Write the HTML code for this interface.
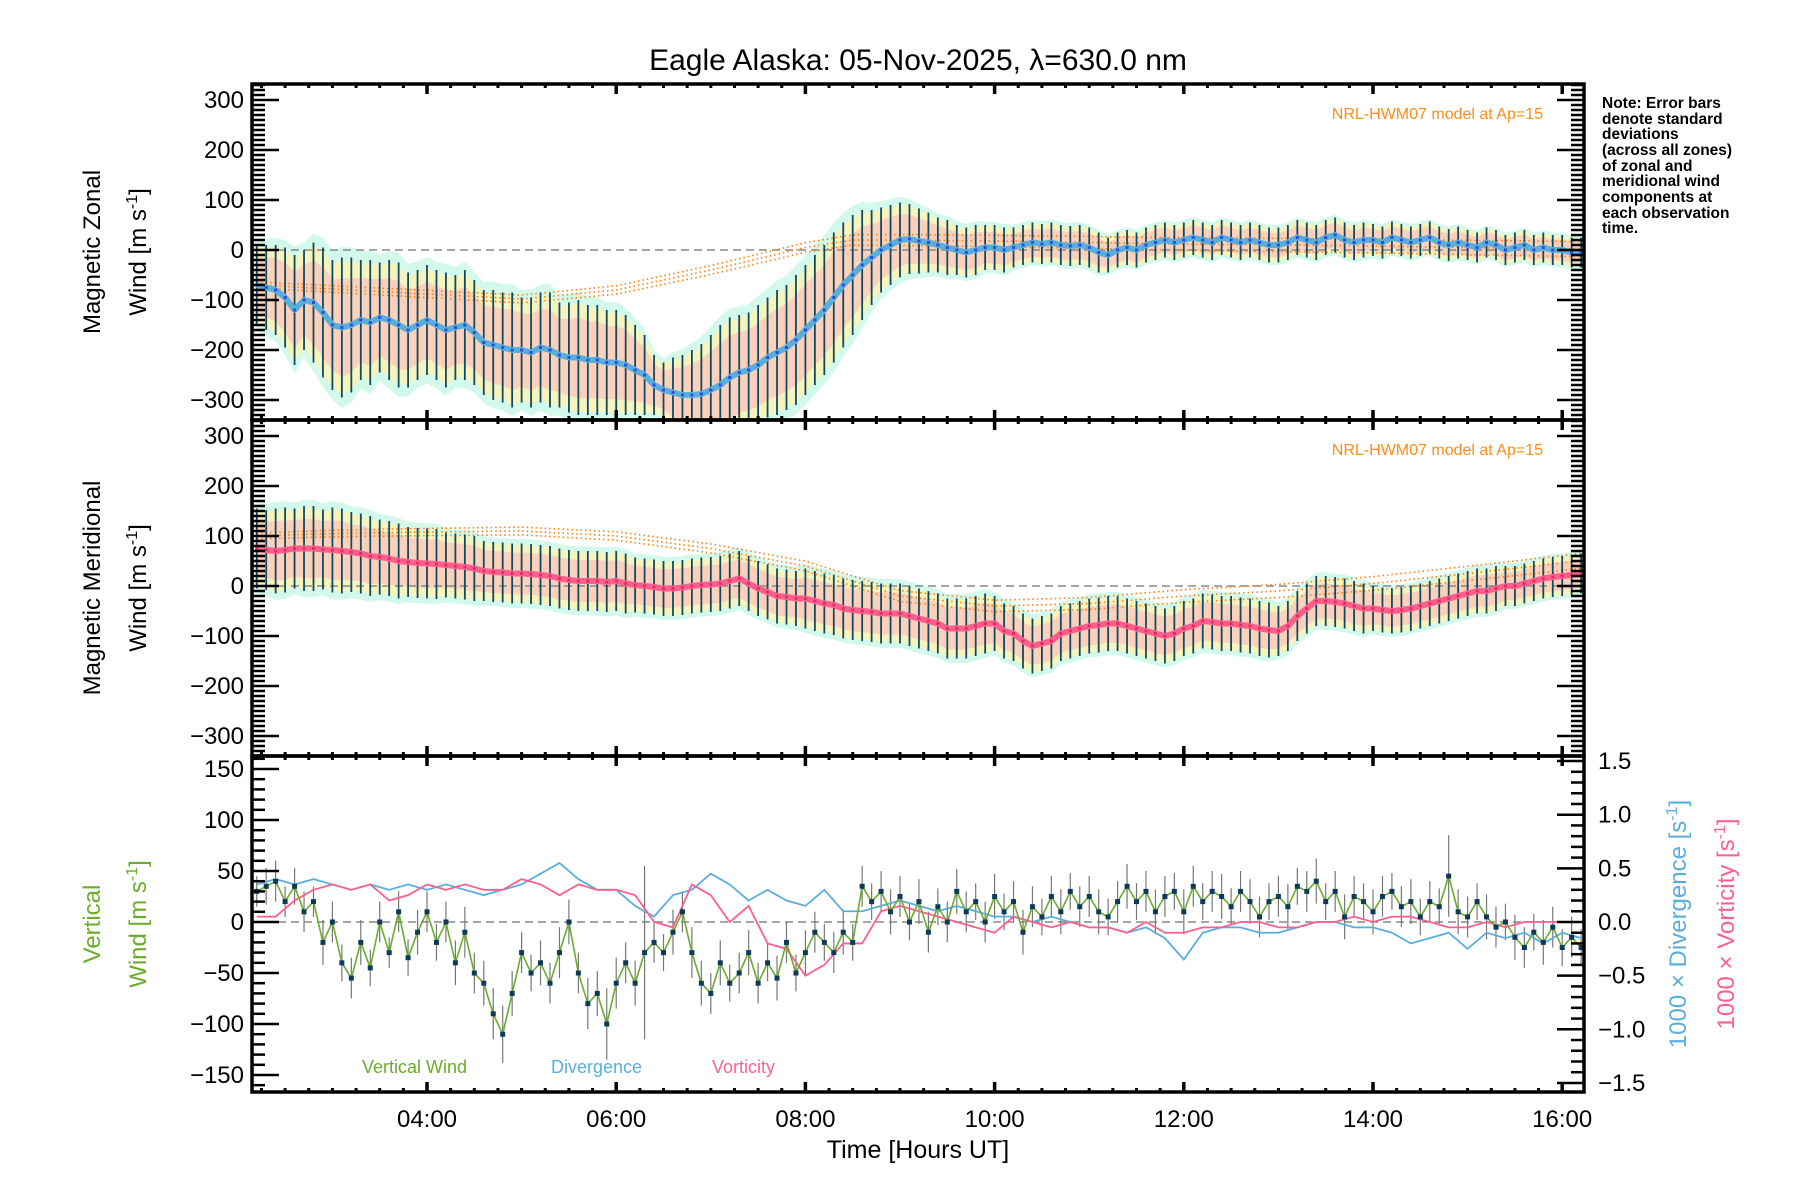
<!DOCTYPE html>
<html><head><meta charset="utf-8"><style>
html,body{margin:0;padding:0;background:#fff;width:1800px;height:1200px;overflow:hidden}
svg text{font-family:"Liberation Sans","DejaVu Sans",sans-serif}
</style></head><body>
<svg id="chart" width="1800" height="1200" viewBox="0 0 1800 1200" xmlns="http://www.w3.org/2000/svg">
<text x="918" y="70" font-size="30" text-anchor="middle">Eagle Alaska: 05-Nov-2025, λ=630.0 nm</text>
<g id="p1"></g>
<g id="p2"></g>
<g id="p3"></g>
<g id="ax"></g>
<text transform="translate(100,252) rotate(-90)" font-size="24" text-anchor="middle">Magnetic Zonal</text>
<text transform="translate(146,252) rotate(-90)" font-size="24" text-anchor="middle">Wind [m s<tspan dy="-9" font-size="16">-1</tspan><tspan dy="9">]</tspan></text>
<text transform="translate(100,588) rotate(-90)" font-size="24" text-anchor="middle">Magnetic Meridional</text>
<text transform="translate(146,588) rotate(-90)" font-size="24" text-anchor="middle">Wind [m s<tspan dy="-9" font-size="16">-1</tspan><tspan dy="9">]</tspan></text>
<text transform="translate(100,924) rotate(-90)" font-size="24" fill="#6aad2a" text-anchor="middle">Vertical</text>
<text transform="translate(146,924) rotate(-90)" font-size="24" fill="#6aad2a" text-anchor="middle">Wind [m s<tspan dy="-9" font-size="16">-1</tspan><tspan dy="9">]</tspan></text>
<text transform="translate(1686,924) rotate(-90)" font-size="24" fill="#5aaedc" text-anchor="middle">1000 × Divergence [s<tspan dy="-9" font-size="16">-1</tspan><tspan dy="9">]</tspan></text>
<text transform="translate(1734,924) rotate(-90)" font-size="24" fill="#ff5f8f" text-anchor="middle">1000 × Vorticity [s<tspan dy="-9" font-size="16">-1</tspan><tspan dy="9">]</tspan></text>
<text x="918" y="1158" font-size="25" text-anchor="middle">Time [Hours UT]</text>
<text x="1543" y="119" font-size="16" fill="#ff8c1a" text-anchor="end">NRL-HWM07 model at Ap=15</text>
<text x="1543" y="455" font-size="16" fill="#ff8c1a" text-anchor="end">NRL-HWM07 model at Ap=15</text>
<text x="362" y="1073" font-size="18" fill="#6aad2a">Vertical Wind</text>
<text x="551" y="1073" font-size="18" fill="#5aaedc">Divergence</text>
<text x="712" y="1073" font-size="18" fill="#ff5f8f">Vorticity</text>
<g font-size="15.5" font-weight="bold">
<text x="1602" y="108">Note: Error bars</text>
<text x="1602" y="124">denote standard</text>
<text x="1602" y="139">deviations</text>
<text x="1602" y="155">(across all zones)</text>
<text x="1602" y="171">of zonal and</text>
<text x="1602" y="186">meridional wind</text>
<text x="1602" y="202">components at</text>
<text x="1602" y="218">each observation</text>
<text x="1602" y="233">time.</text>
</g>
</svg>
<script>
// ---- data (0.1 h grid from 2.2 to 16.2 UT) ----
const t0 = 2.2, dt = 0.1;
const zonalMean = [-70,-75,-80,-95,-120,-100,-105,-125,
-150,-155,-150,-140,-145,-135,-140,-150,-160,-150,
-140,-150,-160,-155,-150,-165,-185,-190,-195,-200,
-200,-205,-195,-200,-210,-215,-215,-220,-220,-225,
-225,-230,-240,-250,-270,-280,-285,-290,-290,-288,
-280,-270,-255,-245,-240,-230,-215,-205,-195,-180,
-160,-140,-120,-95,-70,-50,-30,-15,0,10,
20,22,18,15,10,5,0,-5,0,5,
5,0,5,10,15,12,15,10,8,10,
5,-5,-10,0,5,0,10,15,20,15,
20,25,20,15,25,20,15,20,15,10,
10,15,25,20,15,25,30,20,15,20,
20,15,25,20,15,20,25,15,10,15,
10,5,15,10,0,5,10,0,5,0,
0,-5,-5];
const zonalSd = [80,85,90,100,110,100,120,130,
130,140,135,120,125,110,120,125,115,110,
110,110,115,105,110,105,105,110,110,115,
105,110,110,115,105,110,115,110,110,105,
105,100,90,80,60,55,70,80,90,100,
110,120,120,115,115,120,120,125,125,130,
130,130,130,130,125,120,110,95,85,80,
75,70,65,60,55,55,50,50,50,45,
45,45,40,40,40,40,40,40,40,40,
40,40,35,35,35,35,35,35,35,35,
35,35,35,35,35,35,35,35,35,35,
35,35,35,35,35,35,35,35,35,35,
32,32,32,32,32,32,32,32,32,32,
30,30,30,30,30,30,30,30,30,30,
30,30,30];
const meridMean = [75,72,70,72,75,75,75,73,
72,70,68,65,60,58,55,50,48,46,
45,44,42,40,38,35,30,28,27,25,
25,24,22,20,15,12,10,10,10,8,
10,5,2,0,-2,-5,-5,-3,0,2,
3,5,10,15,5,-5,-12,-20,-22,-25,
-25,-30,-35,-38,-45,-48,-50,-52,-55,-55,
-55,-60,-65,-70,-75,-85,-85,-85,-80,-75,
-75,-90,-95,-110,-120,-115,-110,-95,-90,-85,
-80,-78,-75,-75,-80,-85,-90,-95,-100,-95,
-85,-80,-70,-72,-75,-75,-78,-80,-85,-88,
-90,-80,-60,-45,-30,-30,-32,-35,-40,-45,
-45,-48,-50,-48,-45,-40,-35,-30,-25,-20,
-15,-10,-10,-5,0,0,5,10,15,18,
20,22,25];
const meridSd = [80,80,85,85,80,85,85,80,
85,85,80,80,80,75,75,75,70,70,
70,70,65,65,65,65,60,60,60,60,
60,60,60,60,60,60,60,60,60,60,
60,60,55,55,55,55,55,55,55,55,
55,55,55,55,55,55,55,55,55,55,
60,60,60,60,60,60,60,60,60,60,
60,60,60,60,60,60,60,60,60,60,
55,55,55,55,55,55,55,55,55,55,
55,55,55,55,55,55,55,55,55,55,
55,55,55,55,55,55,55,55,55,55,
50,50,50,50,50,50,50,50,50,50,
45,45,45,45,45,45,45,45,45,45,
45,45,45,45,40,40,40,40,40,40,
40,40,40];
const vertWind = [30,35,40,20,35,10,20,-20,
0,-40,-55,-20,-45,0,-30,10,-35,-10,
10,-20,0,-40,-10,-50,-60,-90,-110,-70,
-30,-50,-40,-60,-30,0,-50,-80,-70,-100,
-60,-40,-60,-30,-20,-30,-10,10,-30,-60,
-70,-40,-60,-50,-30,-60,-40,-55,-20,-50,
-30,-10,-20,-30,-10,-20,35,20,30,10,
25,0,20,-10,15,0,30,10,20,0,
25,10,20,-10,15,5,25,10,30,15,
25,10,5,20,35,20,30,10,25,30,
10,35,20,30,25,15,30,20,5,20,
25,15,35,30,40,20,30,5,25,20,
10,25,30,15,20,5,20,15,45,10,
5,20,5,-5,0,-15,-25,-10,-20,-5,
-25,-15,-25];
const vertSd = [15,18,20,15,18,20,15,22,
20,18,20,22,18,20,15,20,18,22,
20,18,20,22,25,20,22,25,28,22,
20,18,22,20,25,22,20,25,22,35,
25,20,22,85,20,18,22,20,25,22,
20,22,18,20,22,20,18,22,20,18,
22,20,18,20,22,18,20,18,20,22,
20,18,22,20,18,20,22,20,18,20,
22,18,20,22,20,18,20,22,18,20,
20,22,18,20,22,18,20,22,20,18,
22,20,18,20,22,18,20,22,20,18,
20,22,18,20,22,18,20,22,20,18,
22,20,18,20,22,18,20,18,40,22,
20,18,22,20,18,22,20,18,22,20,
18,20,18];
// divergence & vorticity on 0.2 h grid (x1000 s^-1)
const dt2 = 0.2;
const divergence = [.35,.4,.35,.4,.35,.3,.35,.3,.35,.3,.35,.3,.25,.3,.35,.45,.55,.4,.3,.3,.15,.05,.25,.3,.45,.35,.2,.3,.2,.15,.3,.1,.1,.15,.2,.15,.1,.15,.1,.05,.05,0,.05,0,-.05,-.05,-.1,-.05,-.15,-.35,-.1,-.05,-.05,-.1,-.1,-.05,0,0,-.05,-.05,-.1,-.2,-.15,-.1,-.25,-.1,-.15,-.1,-.2,-.1,-.15];
const vorticity = [.05,.05,.2,.3,.35,.3,.35,.2,.25,.35,.3,.35,.3,.3,.4,.35,.25,.35,.3,.3,.25,0,-.05,.35,.25,0,.15,-.2,-.25,-.5,-.4,-.2,-.2,.1,.15,.1,.05,0,-.05,-.1,.05,0,-.05,0,-.05,-.05,-.1,0,-.1,-.1,-.05,-.05,0,0,-.05,-.05,0,0,.05,0,.05,.05,0,-.05,-.05,0,-.05,0,0,0,0];
// HWM07 model keyframes
const modelHours = [2.2,3,4,5,6,7,8,8.5,9,10,11,12,13,14,15,16.2];
const modelZonal = [-70,-78,-88,-98,-80,-40,5,20,20,18,15,12,10,8,5,2];
const modelMerid = [100,105,108,110,100,75,40,10,-20,-40,-35,-20,-10,5,25,50];
const xTicks = ["04:00","06:00","08:00","10:00","12:00","14:00","16:00"];
const xTickHours = [4,6,8,10,12,14,16];
const windTicks = [300,200,100,0,-100,-200,-300];
const vertTicks = [150,100,50,0,-50,-100,-150];
const rightTicks = [1.5,1.0,0.5,0.0,-0.5,-1.0,-1.5];

// ---- scales ----
const X0=252,X1=1584,HMIN=2.15,PXH=94.6;
const xs=h=>X0+(h-HMIN)*PXH;
const P=[84,420,756,1092];
const y1=v=>250-v*0.5, y2=v=>586-v*0.5, y3=v=>922-v*1.02, y3r=v=>922-v*107.3;
const NS="http://www.w3.org/2000/svg";
function mk(parent,tag,attrs){const e=document.createElementNS(NS,tag);for(const k in attrs)e.setAttribute(k,attrs[k]);parent.appendChild(e);return e;}
const hours=zonalMean.map((_,i)=>+(t0+i*dt).toFixed(2));
const hours2=divergence.map((_,i)=>+(t0+i*dt2).toFixed(2));
const clipDefs=mk(document.getElementById('chart'),'defs',{});
[0,1,2].forEach(i=>{const c=mk(clipDefs,'clipPath',{id:'c'+i});mk(c,'rect',{x:X0,y:P[i],width:X1-X0,height:P[i+1]-P[i]});});

function windPanel(g,mean,sd,ys,model,lineCol,dotCol,clip){
  g.setAttribute('clip-path','url(#'+clip+')');
  const bands=[[1.15,'#c8f7e6',0.8],[0.95,'#fff3b0',0.8],[0.7,'#ffc8b8',0.8]];
  bands.forEach(([f,col,op],bi)=>{
    let d='M'+hours.map((h,i)=>xs(h)+','+ys(mean[i]+sd[i]*f)).join('L')+'L'+hours.slice().reverse().map((h,j)=>{const i=hours.length-1-j;return xs(h)+','+ys(mean[i]-sd[i]*f);}).join('L')+'Z';
    const b=mk(g,'path',{d:d,fill:col,opacity:op});
    
    
  });
  const z=mk(g,'line',{x1:X0,x2:X1,y1:ys(0),y2:ys(0),stroke:'#888','stroke-width':1.5,'stroke-dasharray':'8,5'});
  
  
  [-6,0,6].forEach((off,k)=>{
    const m=mk(g,'polyline',{points:modelHours.map((h,i)=>xs(h)+','+ys(model[i]+off*(1+i*0.1))).join(' '),fill:'none',stroke:'#ff7f0e','stroke-width':1.6,'stroke-dasharray':'1.5,3'});
    
    
  });
  hours.forEach((h,i)=>{
    const b=mk(g,'line',{x1:xs(h),x2:xs(h),y1:ys(mean[i]+sd[i]),y2:ys(mean[i]-sd[i]),stroke:'#0d4a68','stroke-width':1.8});
    
    
  });
  const l=mk(g,'polyline',{points:hours.map((h,i)=>xs(h)+','+ys(mean[i])).join(' '),fill:'none',stroke:lineCol,'stroke-width':6,'stroke-linejoin':'round'});
  
  
  hours.forEach((h,i)=>{
    const c=mk(g,'rect',{x:xs(h)-1.5,y:ys(mean[i])-1.5,width:3,height:3,fill:dotCol});
    
    
  });
}
windPanel(document.getElementById('p1'),zonalMean,zonalSd,y1,modelZonal,'#5aaedc','#2a4fd8','c0');
windPanel(document.getElementById('p2'),meridMean,meridSd,y2,modelMerid,'#ff5f8f','#e0305f','c1');

// panel 3
const g3=document.getElementById('p3');
g3.setAttribute('clip-path','url(#c2)');
const z3=mk(g3,'line',{x1:X0,x2:X1,y1:y3(0),y2:y3(0),stroke:'#888','stroke-width':1.5,'stroke-dasharray':'8,5'});


hours.forEach((h,i)=>{
  const b=mk(g3,'line',{x1:xs(h),x2:xs(h),y1:y3(vertWind[i]+vertSd[i]),y2:y3(vertWind[i]-vertSd[i]),stroke:'#777','stroke-width':1.2});
  
  
});
const dl=mk(g3,'polyline',{points:hours2.map((h,i)=>xs(h)+','+y3r(divergence[i])).join(' '),fill:'none',stroke:'#5aaedc','stroke-width':1.8});


const vl=mk(g3,'polyline',{points:hours2.map((h,i)=>xs(h)+','+y3r(vorticity[i])).join(' '),fill:'none',stroke:'#ff5f8f','stroke-width':1.8});


const wl=mk(g3,'polyline',{points:hours.map((h,i)=>xs(h)+','+y3(vertWind[i])).join(' '),fill:'none',stroke:'#6aad2a','stroke-width':1.6});


hours.forEach((h,i)=>{
  const c=mk(g3,'rect',{x:xs(h)-2.5,y:y3(vertWind[i])-2.5,width:5,height:5,fill:'#0d3a5a'});
  
  
});

// axes
const ax=document.getElementById('ax');
function ln(x1,y1_,x2,y2_,w){mk(ax,'line',{x1:x1,y1:y1_,x2:x2,y2:y2_,stroke:'#000','stroke-width':w});}
for(let p=0;p<3;p++){
  const top=P[p],bot=P[p+1];
  mk(ax,'rect',{x:X0,y:top,width:X1-X0,height:bot-top,fill:'none',stroke:'#000','stroke-width':3.5});
  for(let h=2.25;h<=16.2;h+=0.25){const maj=Math.abs(h%2)<1e-6;const L=maj?10:4;ln(xs(h),bot,xs(h),bot-L,maj?3.5:3);ln(xs(h),top,xs(h),top+L,maj?3.5:3);}
}
// left wind axes
[[y1,0],[y2,1]].forEach(([ys,p])=>{
  for(let v=-340;v<=332;v+=10){const y=ys(v);if(y<P[p]+1||y>P[p+1]-1)continue;const maj=v%100===0;ln(X0,y,X0+(maj?27:13),y,2.5);ln(X1,y,X1-(maj?27:13),y,2.5);}
  windTicks.forEach(v=>{const t=mk(ax,'text',{x:X0-8,y:ys(v)+8,'font-size':24,'text-anchor':'end'});t.textContent=(v<0?'−':'')+Math.abs(v);});
});
for(let v=-160;v<=160;v+=10){const y=y3(v);if(y<P[2]+1||y>P[3]-1)continue;const maj=v%50===0;ln(X0,y,X0+(maj?27:13),y,2.5);}
vertTicks.forEach(v=>{const t=mk(ax,'text',{x:X0-8,y:y3(v)+8,'font-size':24,'text-anchor':'end'});t.textContent=(v<0?'−':'')+Math.abs(v);});
for(let k=-15;k<=15;k++){const v=k/10;const y=y3r(v);const maj=k%5===0;ln(X1,y,X1-(maj?27:13),y,2.5);}
rightTicks.forEach(v=>{const t=mk(ax,'text',{x:X1+14,y:y3r(v)+8,'font-size':24});t.textContent=(v<0?'−':'')+Math.abs(v).toFixed(1);});
xTicks.forEach((s,i)=>{const t=mk(ax,'text',{x:xs(xTickHours[i]),y:1127,'font-size':24,'text-anchor':'middle'});t.textContent=s;});
</script>
</body></html>
